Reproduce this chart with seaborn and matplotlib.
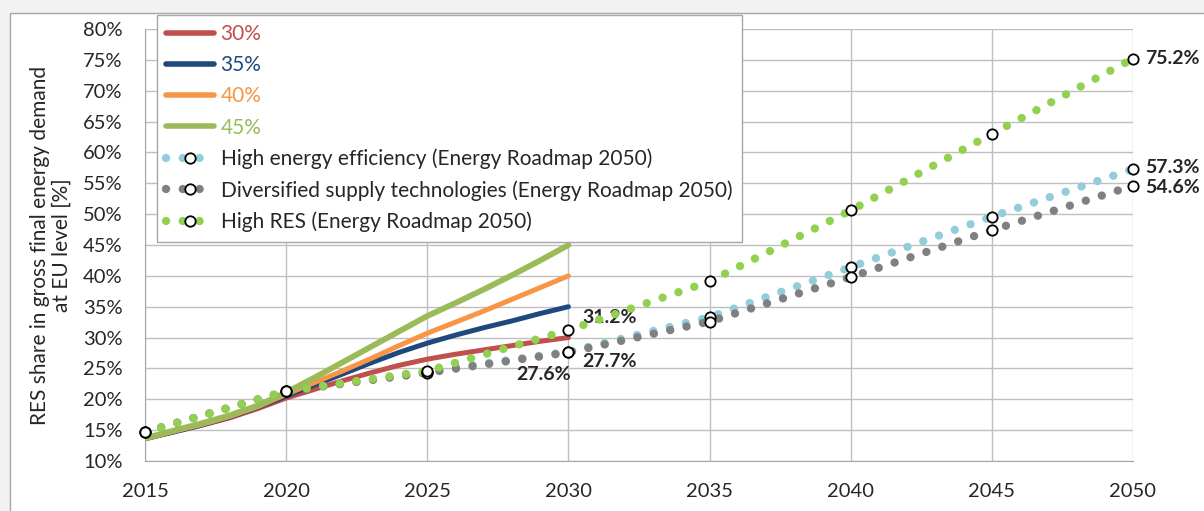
import numpy as np
import pandas as pd
import matplotlib
matplotlib.use("Agg")
import matplotlib.pyplot as plt
import seaborn as sns
from matplotlib.lines import Line2D
from matplotlib.patches import Rectangle

# Green-X scenarios (yearly, %)
years = list(range(2015, 2031))
res30 = [13.6, 14.7, 15.8, 17.0, 18.5, 20.2, 21.6, 23.0, 24.3, 25.5, 26.5, 27.3, 28.0, 28.7, 29.4, 30.0]
res35 = [13.6, 14.7, 15.8, 17.1, 18.7, 20.5, 22.3, 24.1, 25.9, 27.6, 29.1, 30.4, 31.6, 32.7, 33.9, 35.0]
res40 = [13.6, 14.8, 15.9, 17.2, 18.8, 20.8, 22.7, 24.6, 26.6, 28.7, 30.7, 32.5, 34.3, 36.2, 38.1, 40.0]
res45 = [13.7, 14.9, 16.1, 17.4, 19.0, 21.1, 23.5, 26.0, 28.5, 31.0, 33.5, 35.6, 37.8, 40.1, 42.5, 45.0]
scenario_names = ["30%", "35%", "40%", "45%"]
scenario_colors = ["#C0504D", "#1F497D", "#F79646", "#9BBB59"]

# Energy Roadmap 2050 scenarios (5-year steps, %)
years5 = [2015, 2020, 2025, 2030, 2035, 2040, 2045, 2050]
high_eff = [14.7, 21.3, 24.5, 27.7, 33.3, 41.4, 49.6, 57.3]
diversified = [14.7, 21.3, 24.3, 27.6, 32.6, 39.8, 47.4, 54.6]
high_res = [14.7, 21.3, 24.6, 31.2, 39.1, 50.6, 63.0, 75.2]
roadmap_names = ["High energy efficiency (Energy Roadmap 2050)",
                 "Diversified supply technologies (Energy Roadmap 2050)",
                 "High RES (Energy Roadmap 2050)"]
roadmap_colors = ["#92CDDC", "#808080", "#92D050"]

sns.set_style("white")
plt.rcParams['font.family'] = ['Lato', 'DejaVu Sans']

fig = plt.figure(figsize=(12.04, 5.11), dpi=100, facecolor="#F2F2F2")
fig.patches.append(Rectangle((10 / 1204, -0.1), 1.2, 1 - 13 / 511 + 0.1,
                             transform=fig.transFigure, facecolor="white",
                             edgecolor="#A6A6A6", linewidth=1, zorder=-10))
ax = fig.add_axes([145 / 1204, 50 / 511, 988 / 1204, 432 / 511])
ax.set_facecolor("none")

scen = pd.DataFrame({
    "year": years * 4,
    "share": res30 + res35 + res40 + res45,
    "scenario": sum([[n] * len(years) for n in scenario_names], []),
})
sns.lineplot(data=scen, x="year", y="share", hue="scenario", hue_order=scenario_names,
             palette=scenario_colors, linewidth=3.6, ax=ax, legend=False, zorder=3,
             solid_capstyle="round")
ax.lines[-1].set_linewidth(4.2)

dotted = (0, (0.01, 2.0))
for vals, col in zip([high_eff, diversified, high_res], roadmap_colors):
    sns.lineplot(x=years5, y=vals, color=col, linewidth=6, linestyle=dotted,
                 dash_capstyle="round", ax=ax, zorder=4, clip_on=False)
for vals in [high_eff, diversified, high_res]:
    sns.scatterplot(x=years5, y=vals, color="white", edgecolor="black", linewidth=1.3,
                    s=55, ax=ax, zorder=6, clip_on=False)

# value labels
lab = dict(fontsize=14, fontweight="bold", textcoords="offset points")
ax.annotate("31.2%", (2030, high_res[3]), xytext=(10, 9), ha="left", va="center", **lab)
ax.annotate("27.7%", (2030, high_eff[3]), xytext=(10, -7), ha="left", va="center", **lab)
ax.annotate("27.6%", (2030, diversified[3]), xytext=(2, -16), ha="right", va="center", **lab)
ax.annotate("75.2%", (2050, high_res[-1]), xytext=(9, 0), ha="left", va="center", **lab)
ax.annotate("57.3%", (2050, high_eff[-1]), xytext=(9, 1), ha="left", va="center", **lab)
ax.annotate("54.6%", (2050, diversified[-1]), xytext=(9, -1), ha="left", va="center", **lab)

ax.set_xlim(2015, 2050)
ax.set_ylim(10, 80)
ax.set_xticks(range(2015, 2051, 5))
ax.set_yticks(range(10, 81, 5))
ax.set_yticklabels([f"{v}%" for v in range(10, 81, 5)])
ax.grid(True, color="#BFBFBF", linewidth=1)
ax.set_axisbelow(True)
for s in ["top", "right"]:
    ax.spines[s].set_visible(False)
for s in ["left", "bottom"]:
    ax.spines[s].set_color("#A6A6A6")
ax.tick_params(axis="both", length=7, color="#A6A6A6", labelsize=14.5, direction="out")
ax.tick_params(axis="y", pad=9)
ax.tick_params(axis="x", pad=9)
ax.set_xlabel("")
ax.set_ylabel("RES share in gross final energy demand\nat EU level [%]", fontsize=15,
              labelpad=8, linespacing=1.1)

# legend
handles = [Line2D([], [], color=c, linewidth=4, solid_capstyle="round") for c in scenario_colors]
for c in roadmap_colors:
    handles.append(Line2D([], [], color=c, linewidth=6, linestyle=dotted, dash_capstyle="round",
                          marker="o", markersize=7.5, markerfacecolor="white",
                          markeredgecolor="black", markeredgewidth=1.3))
leg = fig.legend(handles, scenario_names + roadmap_names, loc="upper left",
                 bbox_to_anchor=(157 / 1204, 1 - 15 / 511), borderaxespad=0,
                 fontsize=15, frameon=True, fancybox=False, framealpha=1,
                 edgecolor="#A6A6A6", handlelength=2.3, handletextpad=0.3,
                 labelspacing=0.53, numpoints=1, borderpad=0.45)
leg.get_frame().set_linewidth(1)
for t, c in zip(leg.get_texts()[:4], scenario_colors):
    t.set_color(c)

# bracket around the Green-X entries
bx0, bx1, by0, by1, bym = 264, 277, 31, 133, 82
fx = lambda x: x / 1204
fy = lambda y: 1 - y / 511
br = "#8C8C8C"
fig.add_artist(Line2D([fx(bx0), fx(bx1), fx(bx1), fx(bx0)], [fy(by0), fy(by0), fy(by1), fy(by1)],
                      color=br, linewidth=1.2))
fig.add_artist(Line2D([fx(bx1), fx(bx1 + 10)], [fy(bym), fy(bym)], color=br, linewidth=1.2))
fig.text(fx(304), fy(72), "Assessed 2030 RES targets", color="#8C8C8C", fontsize=14, va="center")
fig.text(fx(304), fy(96), "(Green-X scenarios)", color="#8C8C8C", fontsize=14, va="center")

fig.savefig("out.png", dpi=100, facecolor=fig.get_facecolor())
